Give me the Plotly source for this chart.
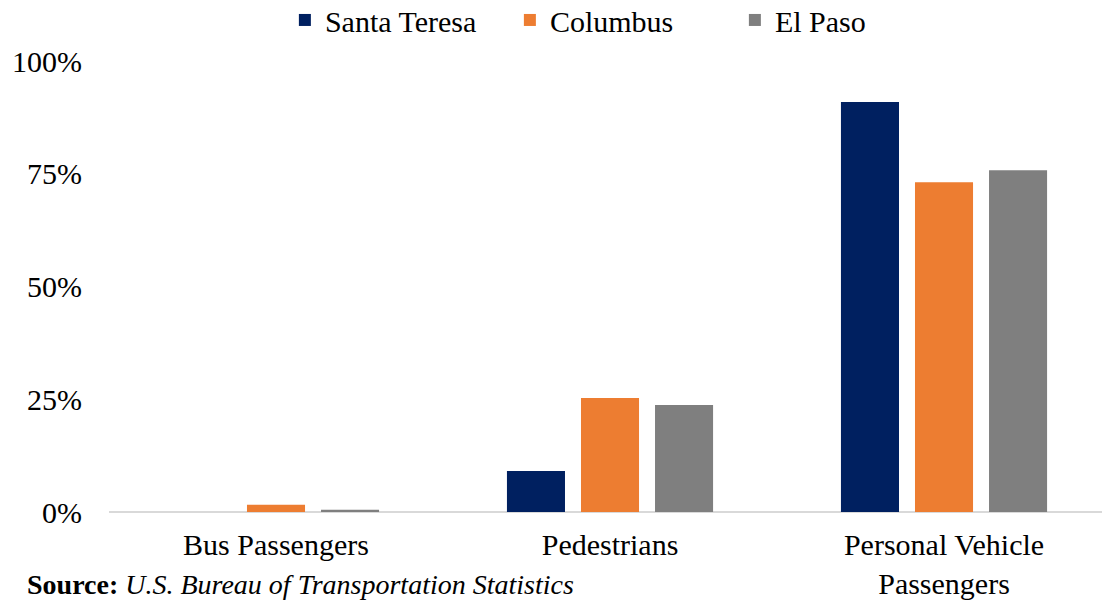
import plotly.graph_objects as go

# Share of inbound crossings by mode at each port of entry
categories = ["Bus Passengers", "Pedestrians", "Personal Vehicle<br>Passengers"]
santa_teresa = [0.0, 0.091, 0.909]
columbus = [0.016, 0.253, 0.731]
el_paso = [0.005, 0.237, 0.758]
y_ticks = [0, 0.25, 0.5, 0.75, 1.0]
y_tick_labels = ["0%", "25%", "50%", "75%", "100%"]

series = [
    ("Santa Teresa", santa_teresa, "#002060"),
    ("Columbus", columbus, "#ED7D31"),
    ("El Paso", el_paso, "#7F7F7F"),
]

FONT = "Liberation Serif"
SIZE = 30

fig = go.Figure()
for name, vals, color in series:
    fig.add_trace(go.Bar(
        name=name, x=categories, y=vals,
        marker=dict(color=color, line=dict(width=0)),
    ))

fig.update_layout(
    width=1102, height=602,
    margin=dict(l=109, r=0, t=61, b=90, autoexpand=False),
    paper_bgcolor="white", plot_bgcolor="white",
    barmode="group", bargap=0.335, bargroupgap=0.216,
    font=dict(family=FONT, size=SIZE, color="#000000"),
    showlegend=True,
    legend=dict(
        orientation="h", x=0.517, xanchor="center", y=1.091, yanchor="middle",
        font=dict(family=FONT, size=SIZE),
        itemwidth=30, tracegroupgap=0,
        entrywidth=180, entrywidthmode="pixels",
    ),
    xaxis=dict(
        range=[-0.5, 2.473], showgrid=False, zeroline=False,
        showline=False, ticks="", ticklabelstandoff=12,
        tickfont=dict(family=FONT, size=SIZE),
    ),
    yaxis=dict(
        range=[0, 1.0], tickvals=y_ticks, ticktext=y_tick_labels,
        showgrid=False, zeroline=True, zerolinecolor="#D9D9D9", zerolinewidth=2,
        showline=False, ticks="", ticklabelstandoff=26,
        tickfont=dict(family=FONT, size=SIZE),
    ),
)

fig.add_annotation(
    text="<b>Source:</b> <i>U.S. Bureau of Transportation Statistics</i>",
    xref="paper", yref="paper", x=-0.085, y=-0.1996, xanchor="left", yanchor="bottom",
    showarrow=False, font=dict(family=FONT, size=28),
)

fig.write_html("out.html")
